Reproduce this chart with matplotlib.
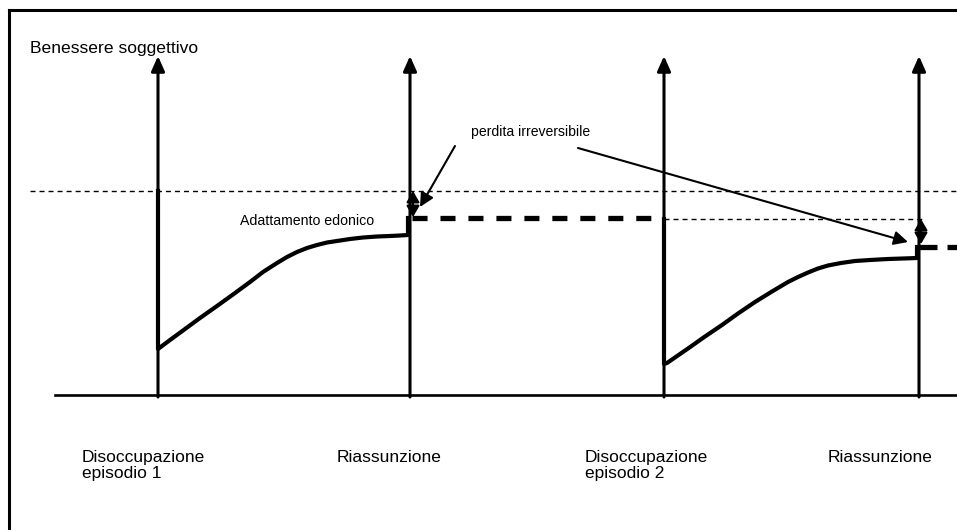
import numpy as np
import matplotlib
matplotlib.use("Agg")
import matplotlib.pyplot as plt

plt.rcParams['font.family'] = ['Liberation Sans', 'DejaVu Sans']

# schematic coordinates (x = time, y = drawing units, larger y = lower wellbeing)
event_x = [158, 410, 664, 919]
baseline_y = 395
baseline_x0 = 55
arrow_top = 56
ref_level = 191
level_after1 = 218
level_after2 = 247

curve1_x = [158, 158, 170, 183, 200, 217, 233, 250, 263, 277, 287, 297, 307, 317,
            327, 337, 350, 363, 377, 390, 400, 408, 408]
curve1_y = [191, 349, 340, 330.5, 318, 306, 294.5, 282, 272, 263, 257, 252, 248, 245,
            242.5, 241, 239, 237.5, 236.5, 236, 235.5, 235, 218]
curve2_x = [664, 664, 667, 688, 705, 722, 738, 755, 772, 788, 798, 808, 818, 828,
            841, 855, 870, 888, 903, 917, 917]
curve2_y = [219, 364, 363, 348.5, 336.5, 325, 313.5, 302, 291.5, 282, 277, 272.5, 268.5, 265.5,
            263, 261, 260, 259, 258.5, 258, 247]

event_labels = ["Disoccupazione\nepisodio 1", "Riassunzione",
                "Disoccupazione\nepisodio 2", "Riassunzione"]
label_x = [82, 337, 585, 828]

fig = plt.figure(figsize=(9.57, 5.30), dpi=100)
ax = fig.add_axes([0, 0, 1, 1])
ax.set_xlim(0, 957)
ax.set_ylim(530, 0)
ax.axis('off')

# frame
ax.plot([9, 9], [10, 530], color='k', lw=2.2, solid_capstyle='projecting')
ax.plot([9, 957], [10, 10], color='k', lw=2.2, solid_capstyle='projecting')

# baseline
ax.plot([baseline_x0, 957], [baseline_y, baseline_y], color='k', lw=1.9)

# vertical arrows
for x in event_x:
    ax.annotate('', xy=(x, arrow_top), xytext=(x, baseline_y + 2),
                arrowprops=dict(arrowstyle='-|>,head_length=0.45,head_width=0.2',
                                lw=2.2, color='k', shrinkA=0, shrinkB=0,
                                mutation_scale=20))

# reference wellbeing level
ax.plot([30, 957], [ref_level, ref_level], color='k', lw=1.0,
        linestyle=(0, (3.6, 2.9)))

# adaptation curves
ax.plot(curve1_x, curve1_y, color='k', lw=3.0, solid_joinstyle='round')
ax.plot(curve2_x, curve2_y, color='k', lw=3.0, solid_joinstyle='round')

# new levels after re-employment
ax.plot([412, 653], [level_after1, level_after1], color='k', lw=3.8,
        linestyle=(0, (2.85, 2.45)))
ax.plot([664, 922], [level_after1 + 1, level_after1 + 1], color='k', lw=1.0,
        linestyle=(0, (3.6, 2.9)))
ax.plot([918, 957], [level_after2, level_after2], color='k', lw=3.8,
        linestyle=(0, (3.6, 1.9)))

# double arrows (irreversible loss)
for x, y0, y1 in [(413, ref_level, level_after1 - 1), (921, level_after1 + 1, level_after2 - 3)]:
    ax.annotate('', xy=(x, y0), xytext=(x, y1),
                arrowprops=dict(arrowstyle='<|-|>,head_length=0.6,head_width=0.35',
                                lw=1.6, color='k', shrinkA=0, shrinkB=0,
                                mutation_scale=11))

# pointer arrows
ax.annotate('', xy=(420, 207), xytext=(455, 146),
            arrowprops=dict(arrowstyle='-|>,head_length=0.6,head_width=0.3',
                            lw=1.5, color='k', shrinkA=0, shrinkB=0,
                            mutation_scale=14))
ax.annotate('', xy=(908, 242), xytext=(578, 148),
            arrowprops=dict(arrowstyle='-|>,head_length=0.6,head_width=0.3',
                            lw=1.5, color='k', shrinkA=0, shrinkB=0,
                            mutation_scale=14))

# texts
ax.text(30, 48, "Benessere soggettivo", fontsize=12.6, ha='left', va='center')
ax.text(240, 221, "Adattamento edonico", fontsize=10.2, ha='left', va='center')
ax.text(471, 132, "perdita irreversibile", fontsize=10.1, ha='left', va='center')
for x, lab in zip(label_x, event_labels):
    ax.text(x, 450, lab, fontsize=12.5, ha='left', va='top', linespacing=1.06)

fig.savefig("out.png", dpi=100)
